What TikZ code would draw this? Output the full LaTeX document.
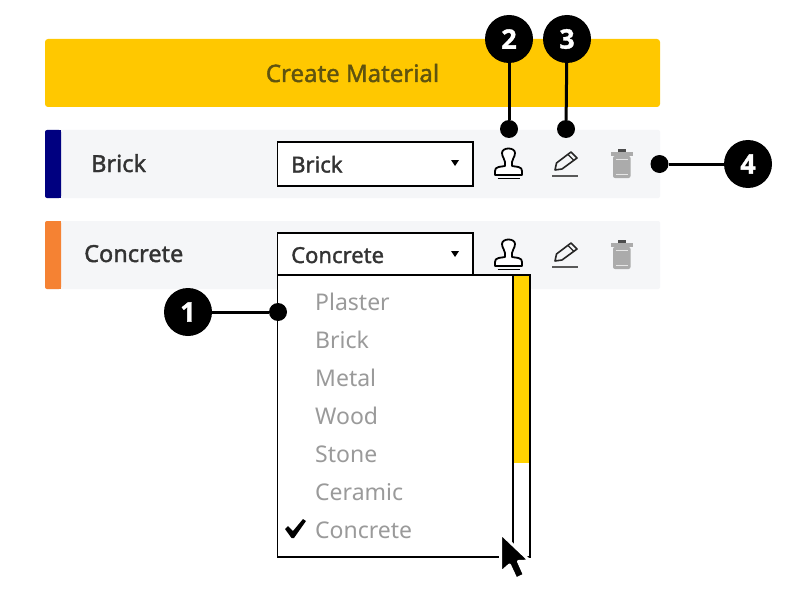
\documentclass[tikz,border=0pt]{standalone}
\usepackage{fontspec}
\setmainfont{Noto Sans}
\newfontfamily\semi[FakeBold=1.6]{Noto Sans}
\newfontfamily\digits[FakeBold=1.2]{Open Sans}
\definecolor{amber}{HTML}{FFC800}
\definecolor{scroll}{HTML}{FFD200}
\definecolor{rowbg}{HTML}{F5F6F8}
\definecolor{navyb}{HTML}{000080}
\definecolor{orangeb}{HTML}{F58233}
\definecolor{listgray}{HTML}{9A9A9A}
\definecolor{bin}{HTML}{ABABAB}
\definecolor{titletxt}{HTML}{5F5310}
\definecolor{rowtxt}{HTML}{333333}
\tikzset{
 x=1pt,y=-1pt,
 callout/.style={circle,fill=black,text=white,minimum size=48pt,inner sep=0pt,font=\fontsize{27}{27}\selectfont\digits\bfseries},
 dot/.style={circle,fill=black,minimum size=18pt,inner sep=0pt},
 leader/.style={draw=black,line width=3pt},
 rowlabel/.style={anchor=base west,text=rowtxt,inner sep=0pt,font=\fontsize{23.5}{24}\selectfont\semi},
 sellabel/.style={anchor=base west,text=rowtxt,inner sep=0pt,font=\fontsize{22}{24}\selectfont\semi},
 selbox/.style={draw=black,line width=1.5pt,fill=white},
 item/.style={anchor=base west,text=listgray,inner sep=0pt,font=\fontsize{23}{24}\selectfont},
 row/.style={fill=rowbg,rounded corners=2pt},
}
\newcommand{\stampicon}[2]{\begin{scope}[shift={(#1,#2)},draw=black,line width=1.8pt,line join=round]
 \draw[fill=white] (-3.5,1) .. controls (-3.5,-2) and (-6.5,-4) .. (-6.5,-8) .. controls (-6.5,-14) and (6.5,-14) .. (6.5,-8) .. controls (6.5,-4) and (3.5,-2) .. (3.5,1) -- (3.5,5) -- (10,6) .. controls (12.5,6.5) and (13.5,8) .. (13.5,10) -- (13.5,14) -- (-13.5,14) -- (-13.5,10) .. controls (-13.5,8) and (-12.5,6.5) .. (-10,6) -- (-3.5,5) -- cycle;
 \draw[line width=1.8pt] (-11,17.5) -- (11,17.5);
\end{scope}}
\newcommand{\pencilicon}[2]{\begin{scope}[shift={(#1,#2)}]
 \draw[black!85,line width=1.6pt,fill=rowbg,line join=round] (-10,5) -- (-8.5,-2) -- (6,-13) -- (12,-7) -- (-3,4) -- cycle;
 \draw[black!85,line width=1.2pt] (3,-10.5) -- (9,-4.5);
 \draw[black!65,line width=2pt] (-13,11) -- (13,11);
\end{scope}}
\newcommand{\binicon}[2]{\begin{scope}[shift={(#1,#2)}]
 \fill[bin,rounded corners=2pt] (-8.5,-9) rectangle (9,13);
 \fill[bin] (-11,-13) rectangle (11,-9.5);
 \fill[black!70] (-4,-16) rectangle (4,-13);
 \draw[white!70!bin,line width=1pt] (-6,-6) -- (6.5,-6) (-6,9.5) -- (6.5,9.5);
\end{scope}}
\begin{document}
\begin{tikzpicture}
\useasboundingbox (0,0) rectangle (792,591);
\fill[white] (0,0) rectangle (792,591);
% create button
\fill[amber,rounded corners=3pt] (45,39) rectangle (660,107);
\node[text=titletxt,inner sep=0pt,font=\fontsize{24}{26}\selectfont\semi] (create) at (352.5,73) {Create Material};
% rows
\fill[row] (45,130) rectangle (660,198);
\fill[row] (45,221) rectangle (660,289);
\fill[navyb,rounded corners=2pt] (45,130) rectangle (61,198);
\fill[navyb] (55,130) rectangle (61,198);
\fill[orangeb,rounded corners=2pt] (45,221) rectangle (61,289);
\fill[orangeb] (55,221) rectangle (61,289);
\node[rowlabel] (l1) at (91,172) {Brick};
\node[rowlabel] (l2) at (84,262) {Concrete};
% selects
\draw[selbox] (277.5,142) rectangle (473,186);
\node[sellabel] (s1) at (291,172.5) {Brick};
\fill (451,160) -- (459,160) -- (455,166) -- cycle;
\draw[selbox] (277.5,233) rectangle (473,276);
\node[sellabel] (s2) at (291,263) {Concrete};
\fill (451,251) -- (459,251) -- (455,257) -- cycle;
% icons
\stampicon{508.5}{161}
\stampicon{508.5}{252}
\pencilicon{565}{165}
\pencilicon{565}{256}
\binicon{621.5}{165}
\binicon{621.5}{256}
% dropdown
\draw[selbox] (277.5,275) rectangle (513,557);
\draw[selbox] (513,275) rectangle (530,557);
\fill[scroll] (513,275) rectangle (530,463);
\draw[black,line width=1.5pt] (530,463) -- (530,275) -- (513,275) -- (513,463);
\node[item] (i1) at (315,310) {Plaster};
\node[item] (i2) at (315,348) {Brick};
\node[item] (i3) at (315,386) {Metal};
\node[item] (i4) at (315,424) {Wood};
\node[item] (i5) at (315,462) {Stone};
\node[item] (i6) at (315,500) {Ceramic};
\node[item] (i7) at (315,538) {Concrete};
\fill[black] (285,529) -- (288,526) -- (293,531) -- (303,519) -- (306,521) -- (294,538) -- (291.5,538) -- cycle;
% cursor
\draw[white,line width=3pt,fill=black,line join=round] (500.5,533) -- (500.5,573) -- (509.5,565) -- (516,579) -- (524.5,575) -- (518.5,561.5) -- (530,561) -- cycle;
% callouts
\node[dot] (d1) at (278,312) {};
\node[dot] (d2) at (509,129) {};
\node[dot] (d3) at (566,129) {};
\node[dot] (d4) at (659.5,164) {};
\node[callout] (c1) at (188,312) {1};
\node[callout] (c2) at (509,39) {2};
\node[callout] (c3) at (567,39) {3};
\node[callout] (c4) at (748,164) {4};
\draw[leader] (c1) -- (d1);
\draw[leader] (c2) -- (d2);
\draw[leader] (c3) -- (d3);
\draw[leader] (c4) -- (d4);
\end{tikzpicture}
\end{document}
